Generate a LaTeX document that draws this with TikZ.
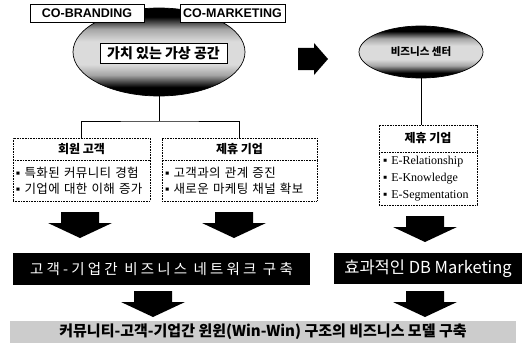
\documentclass[tikz,border=0pt]{standalone}
\usepackage{fontspec}
\setmainfont{Noto Sans CJK KR}
\newfontfamily\latinsans{Liberation Sans}
\newfontfamily\latinserif{Liberation Serif}
\usetikzlibrary{shapes.geometric}
\pgfdeclareverticalshading{ellshade}{100bp}{color(0bp)=(black); color(25bp)=(black); color(30bp)=(black); color(37bp)=(black!35); color(43bp)=(black!14); color(56bp)=(black!14); color(63bp)=(black!35); color(70bp)=(black); color(75bp)=(black); color(100bp)=(black)}
\begin{document}
\begin{tikzpicture}[x=1pt,y=-1pt,
  topbox/.style={draw, fill=white, line width=0.8pt, inner sep=0pt, minimum height=18pt, font=\latinsans\bfseries\fontsize{12.5}{13}\selectfont},
  ellnode/.style={ellipse, draw, line width=0.7pt, shade, shading=ellshade, inner sep=0pt},
  dotbox/.style={draw, line width=0.6pt, dash pattern=on 1pt off 0.6pt, inner sep=0pt, fill=white},
  headtxt/.style={font=\bfseries\fontsize{12}{12}\selectfont},
  itemtxt/.style={align=left, inner xsep=3pt, font=\fontsize{12.5}{16}\selectfont\addfontfeature{LetterSpace=3}},
  seritem/.style={align=left, inner xsep=4pt, font=\latinserif\fontsize{12}{17}\selectfont},
  conn/.style={draw, line width=0.8pt},
  blackbar/.style={fill=black, text=white, inner sep=0pt},
  darrow/.pic={\fill[black] (-19,0) -- (19,0) -- (19,11) -- (32,11) -- (0,26) -- (-32,11) -- (-19,11) -- cycle;}
]
\useasboundingbox[fill=white] (0,0) rectangle (529,353);

% left ellipse with top boxes
\node[ellnode, minimum width=172pt, minimum height=88pt] (e1) at (159,52) {};
\node[topbox, minimum width=114pt] (cob) at (87,13) {CO-BRANDING};
\node[topbox, minimum width=105pt] (com) at (232.5,13) {CO-MARKETING};
\node[draw, fill=white, line width=0.8pt, minimum width=127pt, minimum height=20pt, inner sep=0pt, font=\bfseries\fontsize{14}{14}\selectfont] (vs) at (163.5,53) {가치 있는 가상 공간};

% big right arrow
\fill[black] (298,48) -- (314,48) -- (314,43) -- (328,59) -- (314,75) -- (314,70) -- (298,70) -- cycle;

% right ellipse
\node[ellnode, minimum width=124pt, minimum height=52pt, font=\bfseries\fontsize{10.5}{10.5}\selectfont] (e2) at (421,52) {비즈니스 센터};

% left boxes
\node[dotbox, headtxt, minimum width=137pt, minimum height=22pt] (h1) at (81.5,149) {회원 고객};
\node[dotbox, itemtxt, text width=131pt, minimum height=41pt] (b1) at (81.5,180.5) {{\latinsans ▪} 특화된 커뮤니티 경험\\{\latinsans ▪} 기업에 대한 이해 증가};
\node[dotbox, headtxt, minimum width=155pt, minimum height=22pt] (h2) at (239.5,149) {제휴 기업};
\node[dotbox, itemtxt, text width=149pt, minimum height=41pt] (b2) at (239.5,180.5) {{\latinsans ▪} 고객과의 관계 증진\\{\latinsans ▪} 새로운 마케팅 채널 확보};

% right box
\node[dotbox, headtxt, minimum width=98pt, minimum height=27pt] (h3) at (428,138.5) {제휴 기업};
\node[dotbox, seritem, text width=90pt, minimum height=53pt] (b3) at (428,178.5) {▪ E-Relationship\\▪ E-Knowledge\\▪ E-Segmentation};

% connectors
\coordinate (j1) at (159,121);
\draw[conn] (e1.south) -- (j1);
\draw[conn] (h1.north) |- (j1) -| (h2.north);
\draw[conn] (e2.south) -- (e2.south |- h3.north);

% down arrows row 1
\pic at (80,212) {darrow};
\pic at (234,212) {darrow};
\pic at (425,216) {darrow};

% black bars
\node[blackbar, minimum width=297pt, minimum height=32pt, font=\fontsize{14.5}{15}\selectfont\addfontfeature{LetterSpace=22}] (bar1) at (161.5,269) {고객-기업간 비즈니스 네트워크 구축};
\node[blackbar, minimum width=188pt, minimum height=31pt, font=\fontsize{16.5}{17}\selectfont] (bar2) at (428,268.5) {효과적인 DB Marketing};

% down arrows row 2
\pic at (153,291) {darrow};
\pic at (425,291) {darrow};

% bottom bar
\node[fill=black!20, minimum width=506pt, minimum height=22pt, inner sep=0pt, font=\bfseries\fontsize{15}{15}\selectfont] (bot) at (263,332) {커뮤니티-고객-기업간 윈윈(Win-Win) 구조의 비즈니스 모델 구축};
\end{tikzpicture}
\end{document}
